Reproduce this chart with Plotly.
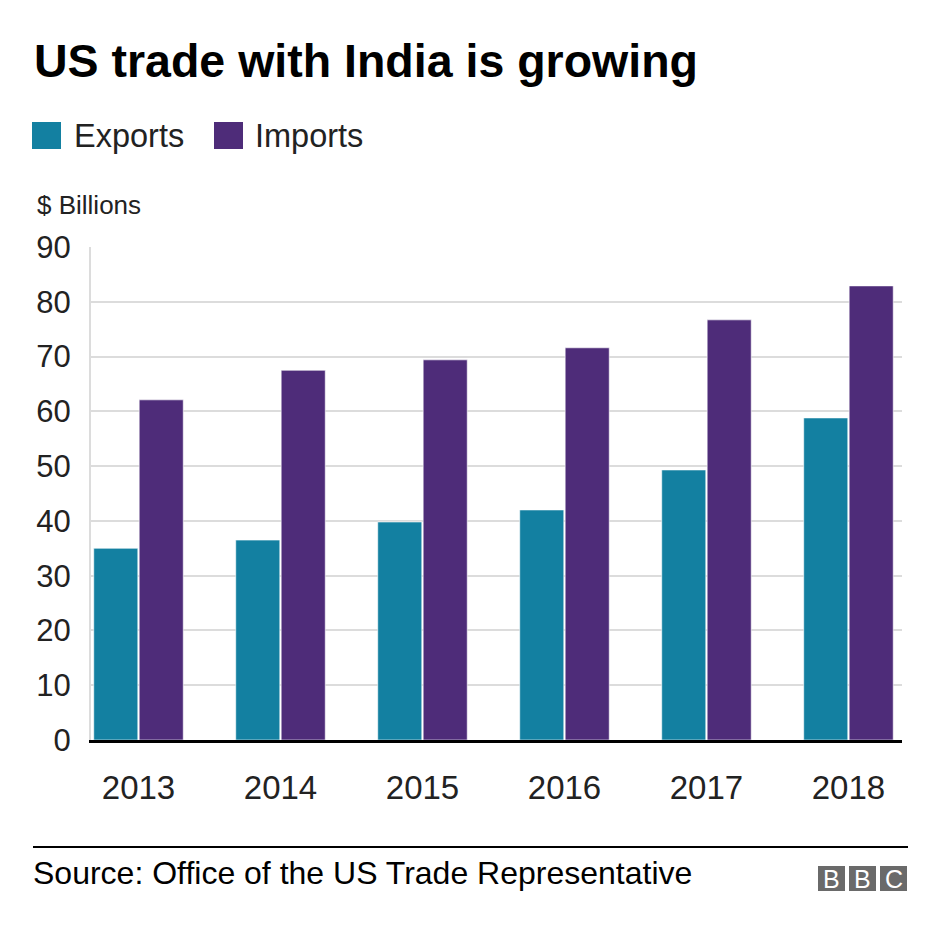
import plotly.graph_objects as go

years = ["2013", "2014", "2015", "2016", "2017", "2018"]
exports = [35.0, 36.5, 39.8, 42.0, 49.3, 58.8]
imports = [62.1, 67.5, 69.4, 71.6, 76.7, 82.9]
y_ticks = [0, 10, 20, 30, 40, 50, 60, 70, 80, 90]

EXP_COL = "#1380a1"
IMP_COL = "#4e2c79"
FONT = "Liberation Sans"

W, H = 940, 934
L, R, T, B = 91, 38, 247, 194
PW = W - L - R
PH = H - T - B


def px(x):
    return (x - L) / PW


def py(y):
    return (H - B - y) / PH


fig = go.Figure()
fig.add_trace(go.Bar(x=years, y=exports, name="Exports", marker=dict(color=EXP_COL, line=dict(color="rgba(255,255,255,0.6)", width=1))))
fig.add_trace(go.Bar(x=years, y=imports, name="Imports", marker=dict(color=IMP_COL, line=dict(color="rgba(255,255,255,0.6)", width=1))))

annotations = [
    dict(text="<b>US trade with India is growing</b>", x=px(32), y=py(61), xanchor="left", yanchor="middle",
         font=dict(family=FONT, size=46.5, color="#000000")),
    dict(text="Exports", x=px(72), y=py(136), xanchor="left", yanchor="middle",
         font=dict(family=FONT, size=32.5, color="#222222")),
    dict(text="Imports", x=px(253), y=py(136), xanchor="left", yanchor="middle",
         font=dict(family=FONT, size=32.5, color="#222222")),
    dict(text="$ Billions", x=px(35), y=py(205), xanchor="left", yanchor="middle",
         font=dict(family=FONT, size=26, color="#222222")),
    dict(text="Source: Office of the US Trade Representative", x=px(31), y=py(873), xanchor="left", yanchor="middle",
         font=dict(family=FONT, size=32, color="#000000")),
]

shapes = [
    dict(type="rect", xref="paper", yref="paper", x0=px(32), x1=px(61), y0=py(122), y1=py(149),
         fillcolor=EXP_COL, line=dict(width=0)),
    dict(type="rect", xref="paper", yref="paper", x0=px(214), x1=px(243), y0=py(122), y1=py(149),
         fillcolor=IMP_COL, line=dict(width=0)),
    dict(type="line", xref="paper", yref="paper", x0=px(33), x1=px(908), y0=py(847), y1=py(847),
         line=dict(color="#000000", width=2)),
]

for i, (x0, letter) in enumerate(zip([818, 849, 880], ["B", "B", "C"])):
    shapes.append(dict(type="rect", xref="paper", yref="paper", x0=px(x0), x1=px(x0 + 27), y0=py(866), y1=py(891),
                       fillcolor="#6a6a6a", line=dict(width=0)))
    annotations.append(dict(text=letter, x=px(x0 + 13.5), y=py(879), xanchor="center", yanchor="middle",
                            font=dict(family=FONT, size=25, color="#ffffff")))

for a in annotations:
    a.update(xref="paper", yref="paper", showarrow=False)

fig.update_layout(
    width=W, height=H,
    margin=dict(l=L, r=R, t=T, b=B, pad=0),
    paper_bgcolor="white", plot_bgcolor="white",
    barmode="group", bargap=0.36, bargroupgap=0.03,
    showlegend=False,
    annotations=annotations, shapes=shapes,
    font=dict(family=FONT),
)

fig.update_xaxes(
    type="category", range=[-0.3345, 5.377],
    showgrid=False, showline=True, linecolor="#000000", linewidth=3,
    ticks="", ticklabelstandoff=16,
    tickfont=dict(family=FONT, size=33, color="#222222"),
)
fig.update_yaxes(
    range=[0, 90], tickvals=y_ticks, ticktext=[str(v) for v in y_ticks],
    showgrid=True, gridcolor="#dcdcdc", gridwidth=2,
    showline=True, linecolor="#dcdcdc", linewidth=2,
    zeroline=False, ticks="", ticklabelstandoff=12,
    tickfont=dict(family=FONT, size=31, color="#222222"),
)

fig.write_html("out.html", config={"displayModeBar": False},
               post_script="document.body.style.margin='0';document.body.style.overflow='hidden';")
